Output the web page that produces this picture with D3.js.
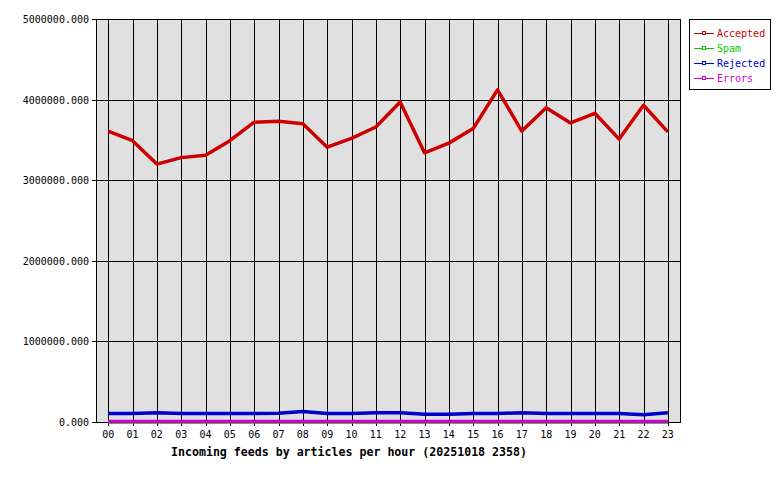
<!doctype html>
<html lang="en">
<head>
<meta charset="utf-8">
<title>Incoming feeds by articles per hour</title>
<script src="https://cdnjs.cloudflare.com/ajax/libs/d3/7.8.5/d3.min.js"></script>
<style>
  body { margin: 0; background: #fff; }
  text { font-family: "DejaVu Sans Mono", "Liberation Mono", monospace; }
</style>
</head>
<body>
<svg width="780" height="480" id="svg"></svg>
<script>
// hours on the x axis
var hours = ['00','01','02','03','04','05','06','07','08','09','10','11',
             '12','13','14','15','16','17','18','19','20','21','22','23'];

var accepted = [3610000,3490000,3200000,3280000,3310000,3490000,3720000,3730000,
                3700000,3410000,3520000,3660000,3970000,3340000,3460000,3640000,
                4120000,3610000,3900000,3710000,3830000,3510000,3930000,3600000];
var spam     = [0,0,0,0,0,0,0,0,0,0,0,0,0,0,0,0,0,0,0,0,0,0,0,0];
var rejected = [105000,105000,115000,105000,105000,105000,105000,110000,
                130000,105000,105000,115000,115000,95000,95000,105000,
                105000,115000,105000,105000,105000,105000,90000,115000];
var errors   = [5000,5000,5000,5000,5000,5000,5000,5000,5000,5000,5000,5000,
                5000,5000,5000,5000,5000,5000,5000,5000,5000,5000,5000,5000];

var yTicks = [0,1000000,2000000,3000000,4000000,5000000];

var seriesNames = ['Accepted','Spam','Rejected','Errors'];
var seriesColors = ['#cc0000','#00cc00','#0000cc','#cc00cc'];
var seriesData = [accepted, spam, rejected, errors];

var pL = 96, pR = 680, pT = 19, pB = 422;

var svg = d3.select('#svg');

var x = d3.scalePoint().domain(hours).range([pL, pR]).padding(0.5);
var y = d3.scaleLinear().domain([0, 5000000]).range([pB, pT]);

// plot background
svg.append('rect')
  .attr('x', pL).attr('y', pT)
  .attr('width', pR - pL).attr('height', pB - pT)
  .attr('fill', '#e0e0e0');

// grid
var grid = svg.append('g').attr('shape-rendering','crispEdges');
grid.selectAll('.vg').data(hours).enter().append('line')
  .attr('x1', function(d) { return Math.round(x(d)) + 0.5; })
  .attr('x2', function(d) { return Math.round(x(d)) + 0.5; })
  .attr('y1', pT).attr('y2', pB + 4)
  .attr('stroke', '#000');
grid.selectAll('.hg').data(yTicks).enter().append('line')
  .attr('x1', pL - 4).attr('x2', pR)
  .attr('y1', function(d) { return Math.round(y(d)) + 0.5; })
  .attr('y2', function(d) { return Math.round(y(d)) + 0.5; })
  .attr('stroke', '#000');

// plot frame
svg.append('rect')
  .attr('x', pL + 0.5).attr('y', pT + 0.5)
  .attr('width', pR - pL).attr('height', pB - pT)
  .attr('fill', 'none').attr('stroke', '#000')
  .attr('shape-rendering','crispEdges');

// y labels
svg.selectAll('.yl').data(yTicks).enter().append('text')
  .attr('x', pL - 7)
  .attr('y', function(d) { return y(d) + 4; })
  .attr('text-anchor', 'end')
  .attr('font-size', '10px')
  .text(function(d) { return d3.format('.3f')(d); });

// x labels
svg.selectAll('.xl').data(hours).enter().append('text')
  .attr('x', function(d) { return x(d); })
  .attr('y', 438)
  .attr('text-anchor', 'middle')
  .attr('font-size', '10px')
  .text(function(d) { return d; });

// series lines, drawn in order so errors sit on top
var line = d3.line()
  .x(function(d, i) { return x(hours[i]); })
  .y(function(d) { return y(d); });

seriesData.forEach(function(s, k) {
  svg.append('path')
    .datum(s)
    .attr('d', line)
    .attr('fill', 'none')
    .attr('stroke', seriesColors[k])
    .attr('stroke-width', 3.5)
    .attr('stroke-linejoin', 'round');
});

// title
svg.append('text')
  .attr('x', 349).attr('y', 456)
  .attr('text-anchor', 'middle')
  .attr('font-size', '11.6px')
  .attr('font-weight', 'bold')
  .text('Incoming feeds by articles per hour (20251018 2358)');

// legend
var lg = svg.append('g').attr('shape-rendering','crispEdges');
lg.append('rect')
  .attr('x', 689.5).attr('y', 19.5)
  .attr('width', 81).attr('height', 70)
  .attr('fill', '#fff').attr('stroke', '#000');

seriesNames.forEach(function(name, k) {
  var ly = 33 + k * 15;
  lg.append('line')
    .attr('x1', 694).attr('x2', 714)
    .attr('y1', ly + 0.5).attr('y2', ly + 0.5)
    .attr('stroke', seriesColors[k]);
  lg.append('rect')
    .attr('x', 702.5).attr('y', ly - 1.5)
    .attr('width', 3).attr('height', 3)
    .attr('fill', '#fff').attr('stroke', seriesColors[k]);
  lg.append('text')
    .attr('x', 717).attr('y', ly + 4)
    .attr('font-size', '10px')
    .attr('fill', seriesColors[k])
    .text(name);
});
</script>
</body>
</html>
